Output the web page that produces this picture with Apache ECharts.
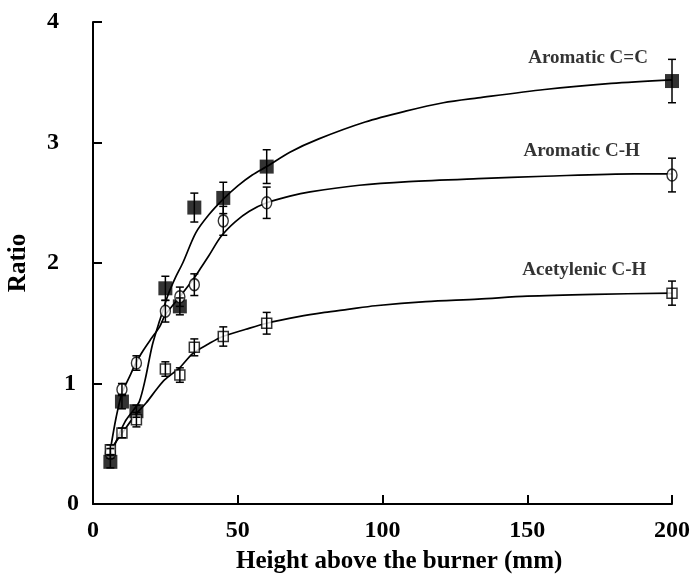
<!DOCTYPE html>
<html>
<head>
<meta charset="utf-8">
<script src="https://cdn.jsdelivr.net/npm/echarts@6/dist/echarts.min.js"></script>
<style>html,body{margin:0;padding:0;background:#fff}#c{width:693px;height:580px}</style>
</head>
<body>
<div id="c"></div>
<script>
// Measured heights (mm)
var heights = [6, 10, 15, 25, 30, 35, 45, 60, 200];
// Ratios
var ccValues = [0.35, 0.85, 0.77, 1.79, 1.64, 2.46, 2.54, 2.80, 3.51];   // Aromatic C=C
var chValues = [0.42, 0.95, 1.17, 1.60, 1.72, 1.82, 2.35, 2.50, 2.73];   // Aromatic C-H
var acValues = [0.45, 0.59, 0.70, 1.12, 1.07, 1.30, 1.39, 1.50, 1.75];   // Acetylenic C-H
// Error bar half-widths
var ccErr = [0.05, 0.06, 0.05, 0.10, 0.07, 0.12, 0.13, 0.14, 0.18];
var chErr = [0.04, 0.05, 0.06, 0.09, 0.08, 0.09, 0.12, 0.13, 0.14];
var acErr = [0.04, 0.04, 0.06, 0.06, 0.06, 0.07, 0.08, 0.09, 0.10];

// Fitted curves
var ccCurveX = [6, 8, 11, 14, 16, 18, 20.5, 23, 26, 28.5, 31, 35.5, 40, 45, 50, 55, 60, 68, 78, 94, 108, 121, 133, 156, 179, 200];
var ccCurveY = [0.38, 0.52, 0.68, 0.78, 0.85, 1.03, 1.32, 1.52, 1.74, 1.88, 2.00, 2.25, 2.40, 2.53, 2.64, 2.73, 2.80, 2.92, 3.03, 3.17, 3.26, 3.33, 3.37, 3.44, 3.49, 3.52];
var chCurveX = [6, 8, 10, 12.5, 14.8, 17.5, 20.2, 23, 25, 30, 34.5, 37, 40, 44.2, 49, 54, 60, 68, 75, 92, 109, 133, 156, 187, 200];
var chCurveY = [0.45, 0.72, 0.92, 1.05, 1.17, 1.28, 1.375, 1.47, 1.57, 1.72, 1.86, 1.95, 2.06, 2.22, 2.34, 2.43, 2.50, 2.555, 2.59, 2.645, 2.675, 2.70, 2.72, 2.74, 2.74];
var acCurveX = [6, 10.4, 15, 18.4, 21.9, 24.7, 29.9, 34.5, 40, 44.8, 52.8, 60, 71, 80, 88, 97.5, 115, 133, 150, 173, 200];
var acCurveY = [0.45, 0.60, 0.75, 0.84, 0.95, 1.03, 1.13, 1.25, 1.33, 1.39, 1.45, 1.50, 1.555, 1.59, 1.615, 1.645, 1.68, 1.70, 1.725, 1.74, 1.75];

// Series labels
var labelNames = ['Aromatic C=C', 'Aromatic C-H', 'Acetylenic C-H'];
var labelX = [171, 168.8, 169.7];
var labelY = [3.70, 2.93, 1.94];

var xTicks = [0, 50, 100, 150, 200];
var yTicks = [0, 1, 2, 3, 4];

var FONT = '"Liberation Serif", "Times New Roman", serif';

function pairs(xs, ys) { return xs.map(function (x, i) { return [x, ys[i]]; }); }
function errData(vals, errs) { return heights.map(function (h, i) { return [h, vals[i] - errs[i], vals[i] + errs[i]]; }); }

function errRender(params, api) {
  var x = api.value(0);
  var lo = api.coord([x, api.value(1)]);
  var hi = api.coord([x, api.value(2)]);
  var half = 4;
  var st = { stroke: '#000', lineWidth: 1.5 };
  return {
    type: 'group',
    children: [
      { type: 'line', shape: { x1: lo[0], y1: lo[1], x2: hi[0], y2: hi[1] }, style: st },
      { type: 'line', shape: { x1: lo[0] - half, y1: lo[1], x2: lo[0] + half, y2: lo[1] }, style: st },
      { type: 'line', shape: { x1: hi[0] - half, y1: hi[1], x2: hi[0] + half, y2: hi[1] }, style: st }
    ]
  };
}

function curve(xs, ys) {
  return { type: 'line', data: pairs(xs, ys), smooth: 0.3, showSymbol: false, symbol: 'none',
    lineStyle: { color: '#000', width: 1.7 }, z: 1, silent: true, animation: false };
}
function errSeries(vals, errs) {
  return { type: 'custom', data: errData(vals, errs), renderItem: errRender, z: 4, silent: true, animation: false,
    encode: { x: 0, y: [1, 2] } };
}

var labelFont = { color: '#000', fontFamily: FONT, fontWeight: 'bold', fontSize: 24 };

var chart = echarts.init(document.getElementById('c'), null, { renderer: 'canvas' });
chart.setOption({
  backgroundColor: '#fff',
  animation: false,
  grid: { left: 93, right: 20, top: 22, bottom: 76, containLabel: false },
  xAxis: {
    type: 'value', min: xTicks[0], max: xTicks[xTicks.length - 1], interval: 50,
    axisLine: { lineStyle: { color: '#000', width: 2 } },
    axisTick: { inside: true, length: 9, lineStyle: { color: '#000', width: 2 } },
    splitLine: { show: false },
    axisLabel: { color: '#000', fontFamily: FONT, fontWeight: 'bold', fontSize: 24, margin: 15 }
  },
  yAxis: {
    type: 'value', min: yTicks[0], max: yTicks[yTicks.length - 1], interval: 1,
    axisLine: { show: true, lineStyle: { color: '#000', width: 2 } },
    axisTick: { show: true, inside: true, length: 9, lineStyle: { color: '#000', width: 2 } },
    splitLine: { show: false },
    axisLabel: {
      margin: 14,
      formatter: function (v) { return v >= 2 ? '{w|' + v + '}' : (v === 1 ? '{o|' + v + '}' : '{z|' + v + '}'); },
      rich: {
        w: Object.assign({ padding: [0, 20, 0, 0] }, labelFont),
        o: Object.assign({ padding: [0, 3, 0, 0] }, labelFont),
        z: Object.assign({}, labelFont)
      }
    }
  },
  graphic: [
    { type: 'text', left: 236, top: 549, style: { text: 'Height above the burner (mm)', fill: '#000', font: 'bold 25px ' + FONT } },
    { type: 'text', x: 19, y: 263, rotation: Math.PI / 2, style: { text: 'Ratio', fill: '#000', font: 'bold 25px ' + FONT, align: 'center', verticalAlign: 'middle' } }
  ],
  series: [
    curve(ccCurveX, ccCurveY),
    curve(chCurveX, chCurveY),
    curve(acCurveX, acCurveY),
    { type: 'scatter', data: pairs(heights, ccValues), symbol: 'rect', symbolSize: 14,
      itemStyle: { color: '#000' }, z: 3, animation: false },
    { type: 'scatter', data: pairs(heights, chValues), symbol: 'circle', symbolSize: [10, 12],
      itemStyle: { color: '#fff', borderColor: '#000', borderWidth: 1.5 }, z: 3, animation: false },
    { type: 'scatter', data: pairs(heights, acValues), symbol: 'rect', symbolSize: 10,
      itemStyle: { color: '#fff', borderColor: '#000', borderWidth: 1.5 }, z: 3, animation: false },
    errSeries(ccValues, ccErr),
    errSeries(chValues, chErr),
    errSeries(acValues, acErr),
    { type: 'scatter', symbolSize: 1, itemStyle: { color: 'rgba(0,0,0,0)' }, z: 5, silent: true, animation: false,
      data: labelNames.map(function (n, i) { return { value: [labelX[i], labelY[i]], name: n }; }),
      label: { show: true, position: 'inside', formatter: '{b}', color: '#000', fontFamily: FONT, fontWeight: 'bold', fontSize: 19 } }
  ]
});
</script>
</body>
</html>
